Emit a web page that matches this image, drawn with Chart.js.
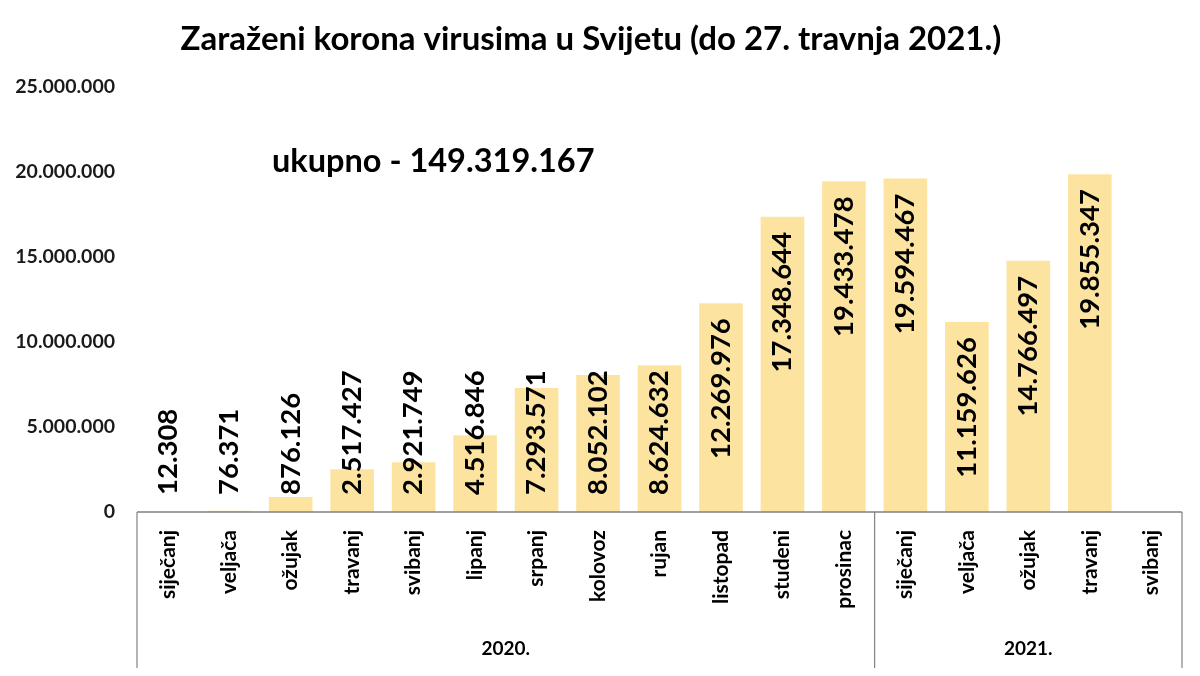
<!DOCTYPE html>
<html>
<head>
<meta charset="utf-8">
<title>Zaraženi korona virusima u Svijetu</title>
<script src="https://cdn.jsdelivr.net/npm/chart.js@4"></script>
<style>
  body { margin: 0; background: #fff; }
  #wrap { width: 1200px; height: 676px; position: relative; }
</style>
</head>
<body>
<div id="wrap"><canvas id="grafico"></canvas></div>
<script>
const naslov = "Zaraženi korona virusima u Svijetu (do 27. travnja 2021.)";
const ukupnoTekst = "ukupno - 149.319.167";

const mjeseci = ["siječanj", "veljača", "ožujak", "travanj", "svibanj", "lipanj", "srpanj", "kolovoz",
  "rujan", "listopad", "studeni", "prosinac", "siječanj", "veljača", "ožujak", "travanj", "svibanj"];
const zarazeni = [12308, 76371, 876126, 2517427, 2921749, 4516846, 7293571, 8052102,
  8624632, 12269976, 17348644, 19433478, 19594467, 11159626, 14766497, 19855347, null];
const godine = ["2020.", "2021."];
const mjeseciPoGodini = [12, 5];
const yTicks = [0, 5000000, 10000000, 15000000, 20000000, 25000000];

const font = "Lato";
const boja = "#FCE4A0";
const linija = "#808080";

function tocke(v) {
  return String(v).replace(/\B(?=(\d{3})+(?!\d))/g, ".");
}

// vrijednosti uspravno na stupcima
const oznakePlugin = {
  id: "oznake",
  afterDatasetsDraw(chart) {
    const ctx = chart.ctx;
    const meta = chart.getDatasetMeta(0);
    ctx.save();
    ctx.font = "bold 27.5px " + font;
    ctx.fillStyle = "#000";
    ctx.textBaseline = "middle";
    ctx.textAlign = "left";
    meta.data.forEach((bar, i) => {
      const v = zarazeni[i];
      if (v === null) return;
      const txt = tocke(v);
      const w = ctx.measureText(txt).width;
      let start = bar.y + 15;
      if (start + w > bar.base - 17) start = bar.base - 17 - w;
      ctx.save();
      ctx.translate(bar.x, start + w);
      ctx.rotate(-Math.PI / 2);
      ctx.fillText(txt, 0, 0);
      ctx.restore();
    });
    ctx.restore();
  }
};

// okvir ispod osi i godine
const godinePlugin = {
  id: "godine",
  afterDraw(chart) {
    const ctx = chart.ctx;
    const x = chart.scales.x;
    const half = (x.getPixelForValue(1) - x.getPixelForValue(0)) / 2;
    const top = chart.chartArea.bottom;
    const bottom = top + 156;
    ctx.save();
    ctx.strokeStyle = linija;
    ctx.lineWidth = 1.5;
    ctx.beginPath();
    ctx.moveTo(x.left, top);
    ctx.lineTo(x.right, top);
    ctx.stroke();
    ctx.font = "bold 19px " + font;
    ctx.fillStyle = "#000";
    ctx.textAlign = "center";
    ctx.textBaseline = "middle";
    let idx = 0;
    const granice = [x.getPixelForValue(0) - half];
    godine.forEach((g, k) => {
      const a = x.getPixelForValue(idx) - half;
      idx += mjeseciPoGodini[k];
      const b = x.getPixelForValue(idx - 1) + half;
      granice.push(b);
      ctx.fillText(g, (a + b) / 2, top + 137);
    });
    ctx.lineWidth = 1.2;
    granice.forEach(p => {
      ctx.beginPath();
      ctx.moveTo(p, top);
      ctx.lineTo(p, bottom);
      ctx.stroke();
    });
    ctx.font = "bold 32.5px " + font;
    ctx.textAlign = "left";
    ctx.fillText(ukupnoTekst, 272, 162);
    ctx.restore();
  }
};

new Chart(document.getElementById("grafico"), {
  type: "bar",
  data: {
    labels: mjeseci,
    datasets: [{
      data: zarazeni,
      backgroundColor: boja,
      barPercentage: 0.71,
      categoryPercentage: 1
    }]
  },
  options: {
    responsive: true,
    maintainAspectRatio: false,
    animation: false,
    layout: { padding: { left: 0, right: 18, top: 20, bottom: 0 } },
    plugins: {
      legend: { display: false },
      tooltip: { enabled: false },
      title: {
        display: true,
        text: naslov,
        color: "#000",
        font: { family: font, size: 33, weight: "bold" },
        padding: { top: 0, bottom: 27 }
      }
    },
    scales: {
      x: {
        grid: { display: false },
        border: { display: false },
        ticks: {
          autoSkip: false,
          maxRotation: 90,
          minRotation: 90,
          padding: 10,
          color: "#000",
          font: { family: font, size: 21, weight: "bold" }
        },
        afterFit(scale) { scale.height = 164; }
      },
      y: {
        min: 0,
        max: 25000000,
        afterBuildTicks(scale) { scale.ticks = yTicks.map(v => ({ value: v })); },
        grid: { display: false },
        border: { display: false },
        ticks: {
          padding: 14,
          color: "#1a1a1a",
          font: { family: font, size: 19.5, weight: "bold" },
          callback: v => tocke(v)
        },
        afterFit(scale) { scale.width = 137; }
      }
    }
  },
  plugins: [oznakePlugin, godinePlugin]
});
</script>
</body>
</html>
